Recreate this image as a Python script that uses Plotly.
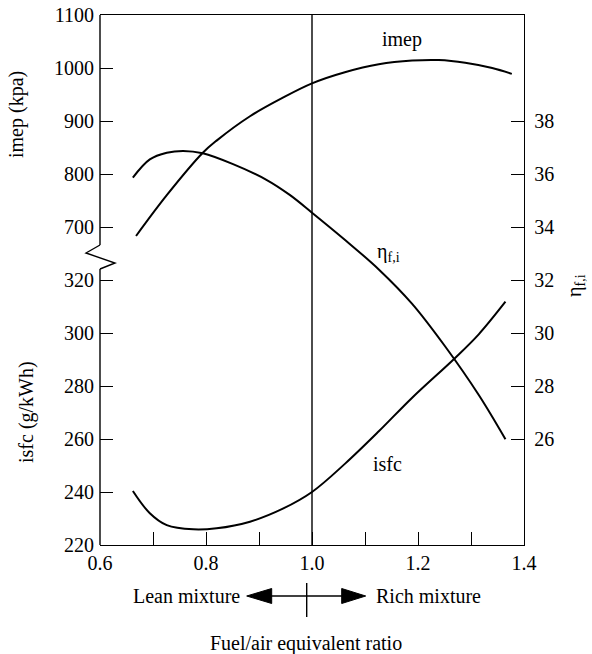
import plotly.graph_objects as go

# ---- data ----
imep_phi = [0.668, 0.726, 0.794, 0.820, 0.883, 0.945, 1.0, 1.062, 1.126, 1.189, 1.239, 1.289, 1.340, 1.377]
imep_kpa = [683, 760, 840, 863, 909, 944, 971, 992, 1007, 1014, 1015, 1010, 1000, 989]

eta_phi = [0.662, 0.694, 0.726, 0.757, 0.794, 0.851, 0.914, 0.958, 1.0, 1.063, 1.126, 1.189, 1.251, 1.315, 1.365]
eta_fi = [35.86, 36.55, 36.80, 36.87, 36.78, 36.37, 35.78, 35.21, 34.54, 33.5, 32.4, 31.1, 29.5, 27.65, 25.99]

isfc_phi = [0.662, 0.694, 0.726, 0.776, 0.820, 0.883, 0.946, 1.0, 1.063, 1.126, 1.189, 1.27, 1.315, 1.365]
isfc_g = [240.4, 232.0, 227.5, 225.9, 226.3, 228.8, 233.8, 240.0, 250.8, 262.9, 275.6, 290.6, 299.6, 311.8]

x_major_ticks = [0.6, 0.8, 1.0, 1.2, 1.4]
x_ticktext = ["0.6", "0.8", "1.0", "1.2", "1.4"]
x_minor_ticks = [0.7, 0.9, 1.1, 1.3]
imep_ticks = [700, 800, 900, 1000, 1100]
isfc_ticks = [220, 240, 260, 280, 300, 320]
eta_ticks = [26, 28, 30, 32, 34, 36, 38]

FONT = "Liberation Serif"
FS = 20
LW = 1.4

W, H = 592, 654
L, R, T, B = 100, 68, 15, 109
PW, PH = W - L - R, H - T - B


def px(xp):
    return (xp - L) / PW


def py(yp):
    return (H - B - yp) / PH


fig = go.Figure()
line = dict(color="black", width=2, shape="spline", smoothing=1.0)
fig.add_trace(go.Scatter(x=imep_phi, y=imep_kpa, mode="lines", line=line, xaxis="x", yaxis="y", showlegend=False))
fig.add_trace(go.Scatter(x=eta_phi, y=eta_fi, mode="lines", line=line, xaxis="x", yaxis="y2", showlegend=False))
fig.add_trace(go.Scatter(x=isfc_phi, y=isfc_g, mode="lines", line=line, xaxis="x", yaxis="y3", showlegend=False))

tickfont = dict(family=FONT, size=FS, color="black")
common = dict(showgrid=False, zeroline=False, ticks="inside", ticklen=13, tickwidth=LW,
              tickcolor="black", tickfont=tickfont, automargin=False)

fig.update_layout(
    width=W, height=H,
    margin=dict(l=L, r=R, t=T, b=B, autoexpand=False),
    paper_bgcolor="white", plot_bgcolor="white",
    font=dict(family=FONT, size=FS, color="black"),
    xaxis=dict(range=[0.6, 1.4], tickvals=x_major_ticks, ticktext=x_ticktext, showline=True,
               linecolor="black", linewidth=LW, mirror=True, ticklabelstandoff=0,
               minor=dict(tickvals=x_minor_ticks, ticks="inside", ticklen=13, tickwidth=LW,
                          tickcolor="black", showgrid=False),
               **common),
    yaxis=dict(range=[100, 1100], tickvals=imep_ticks, showline=False, side="left",
               ticklabelstandoff=5, **common),
    yaxis3=dict(range=[220, 420], tickvals=isfc_ticks, showline=False, side="left",
                overlaying="y", anchor="x", ticklabelstandoff=5, **common),
    yaxis2=dict(range=[22, 42], tickvals=eta_ticks, showline=True, linecolor="black",
                linewidth=LW, side="right", overlaying="y", anchor="x", ticklabelstandoff=5, **common),
)

shapes = []
# vertical reference line at phi = 1.0
shapes.append(dict(type="line", xref="x", yref="paper", x0=1.0, x1=1.0, y0=0, y1=1,
                   line=dict(color="black", width=LW)))
# left axis line with break symbol
shapes.append(dict(type="line", xref="paper", yref="paper", x0=0, x1=0, y0=py(245), y1=1,
                   line=dict(color="black", width=LW)))
shapes.append(dict(type="line", xref="paper", yref="paper", x0=0, x1=0, y0=0, y1=py(269),
                   line=dict(color="black", width=LW)))
shapes.append(dict(type="path", xref="paper", yref="paper",
                   path=f"M 0,{py(245)} L {px(86)},{py(253)} L {px(115)},{py(263)} L 0,{py(269)}",
                   line=dict(color="black", width=LW)))
# lean / rich arrow
ay = 596
shapes.append(dict(type="line", xref="paper", yref="paper", x0=px(270), x1=px(343), y0=py(ay), y1=py(ay),
                   line=dict(color="black", width=LW)))
shapes.append(dict(type="path", xref="paper", yref="paper",
                   path=f"M {px(246.7)},{py(ay)} L {px(271.7)},{py(ay-7.5)} L {px(271.7)},{py(ay+7.5)} Z",
                   fillcolor="black", line=dict(color="black", width=1)))
shapes.append(dict(type="path", xref="paper", yref="paper",
                   path=f"M {px(365.7)},{py(ay)} L {px(341.7)},{py(ay-7.5)} L {px(341.7)},{py(ay+7.5)} Z",
                   fillcolor="black", line=dict(color="black", width=1)))
shapes.append(dict(type="line", xref="paper", yref="paper", x0=px(306.7), x1=px(306.7), y0=py(583), y1=py(617),
                   line=dict(color="black", width=LW)))
fig.update_layout(shapes=shapes)

ann = []
tf = dict(family=FONT, size=FS, color="black")


def note(text, xp, yp, xanchor="center", angle=0):
    ann.append(dict(text=text, xref="paper", yref="paper", x=px(xp), y=py(yp), xanchor=xanchor,
                    yanchor="middle", textangle=angle, showarrow=False, font=tf))


note("imep", 402, 40)
note("η<sub>f,i</sub>", 388, 252)
note("isfc", 387, 464)
note("imep (kpa)", 17, 115, angle=-90)
note("isfc (g/kWh)", 27, 412, angle=-90)
note("η<sub>f,i</sub>", 575, 286, angle=-90)
note("Lean mixture", 242, 596, xanchor="right")
note("Rich mixture", 374, 596, xanchor="left")
note("Fuel/air equivalent ratio", 306, 643)
fig.update_layout(annotations=ann)

fig.write_html("out.html", config={"displayModeBar": False},
               post_script="document.body.style.margin='0';")
